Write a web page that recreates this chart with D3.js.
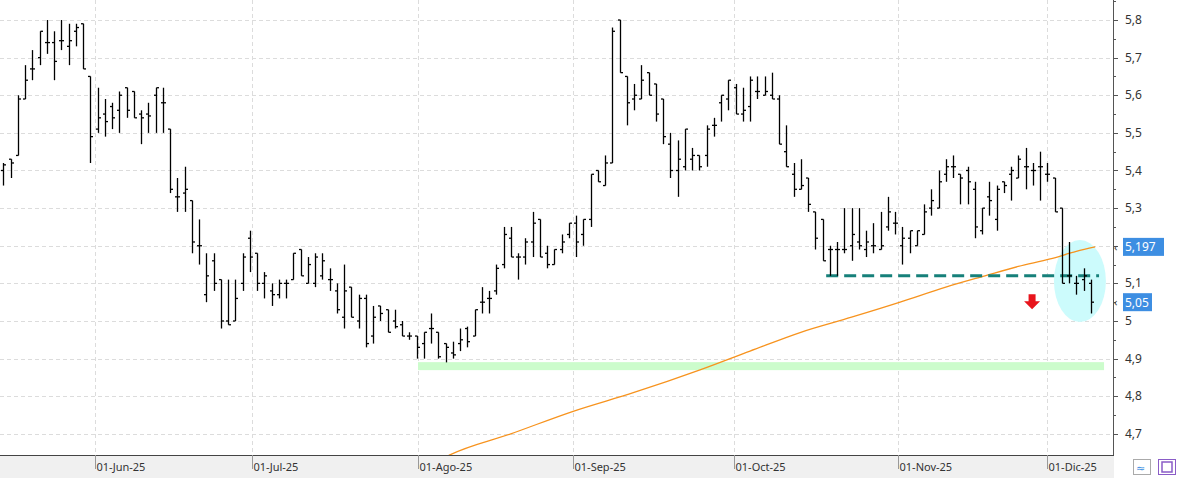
<!DOCTYPE html>
<html><head><meta charset="utf-8">
<script src="https://cdn.jsdelivr.net/npm/d3@7/dist/d3.min.js"></script>
<style>body{margin:0;background:#fff;font-family:"Noto Sans","DejaVu Sans",sans-serif}</style>
</head><body><svg id="c" width="1178" height="478"></svg>
<script>
// OHLC bars (index order)
const opens  = [5.40,5.43,5.44,5.59,5.67,5.70,5.74,5.74,5.745,5.73,5.77,5.79,5.65,5.51,5.55,5.57,5.56,5.62,5.61,5.55,5.55,5.60,5.58,5.51,5.33,5.34,5.32,5.20,5.07,5.16,5.11,5.00,5.00,5.10,5.22,5.18,5.10,5.08,5.07,5.10,5.11,5.19,5.10,5.10,5.12,5.11,5.08,5.01,5.09,5.00,5.06,4.96,5.04,5.03,5.00,4.99,4.96,4.96,4.94,4.98,4.97,4.94,4.915,4.94,4.98,4.96,5.05,5.06,5.08,5.15,5.22,5.17,5.17,5.21,5.27,5.18,5.15,5.19,5.23,5.26,5.23,5.27,5.40,5.36,5.42,5.80,5.65,5.59,5.59,5.66,5.63,5.59,5.47,5.40,5.41,5.43,5.44,5.44,5.52,5.58,5.59,5.62,5.55,5.57,5.61,5.60,5.60,5.59,5.45,5.39,5.35,5.38,5.29,5.27,5.19,5.19,5.19,5.20,5.21,5.19,5.20,5.19,5.25,5.26,5.20,5.22,5.20,5.23,5.30,5.30,5.39,5.41,5.39,5.40,5.35,5.24,5.33,5.27,5.37,5.39,5.38,5.41,5.40,5.41,5.39,5.38,5.30,5.12,5.10,5.11,5.10];
const highs  = [5.42,5.43,5.60,5.68,5.72,5.77,5.80,5.77,5.80,5.79,5.79,5.79,5.65,5.62,5.59,5.58,5.61,5.62,5.61,5.56,5.58,5.62,5.62,5.51,5.38,5.41,5.32,5.27,5.18,5.18,5.11,5.11,5.11,5.18,5.24,5.18,5.13,5.10,5.11,5.11,5.18,5.19,5.17,5.18,5.18,5.14,5.10,5.15,5.09,5.07,5.07,5.04,5.04,5.03,5.03,5.00,4.97,4.96,4.97,5.02,4.97,4.94,4.945,4.98,4.985,5.03,5.09,5.08,5.15,5.25,5.25,5.18,5.22,5.29,5.27,5.20,5.19,5.23,5.26,5.28,5.27,5.39,5.40,5.44,5.78,5.80,5.65,5.63,5.68,5.66,5.63,5.59,5.50,5.48,5.51,5.46,5.44,5.52,5.54,5.60,5.64,5.63,5.62,5.65,5.65,5.65,5.66,5.60,5.52,5.42,5.43,5.38,5.29,5.27,5.20,5.21,5.30,5.30,5.30,5.24,5.26,5.29,5.33,5.29,5.25,5.24,5.24,5.31,5.35,5.40,5.43,5.44,5.39,5.41,5.37,5.30,5.37,5.36,5.37,5.41,5.44,5.46,5.42,5.45,5.42,5.38,5.30,5.21,5.12,5.14,5.11];
const lows   = [5.36,5.38,5.44,5.59,5.64,5.68,5.71,5.64,5.72,5.68,5.73,5.67,5.42,5.50,5.49,5.51,5.50,5.54,5.54,5.47,5.50,5.50,5.50,5.34,5.29,5.29,5.18,5.15,5.05,5.08,4.98,4.99,5.00,5.08,5.13,5.08,5.06,5.04,5.06,5.06,5.11,5.12,5.10,5.09,5.11,5.08,5.02,4.98,5.01,4.98,4.93,4.94,5.00,4.97,4.98,4.96,4.95,4.90,4.90,4.94,4.90,4.89,4.90,4.92,4.93,4.96,5.02,5.02,5.07,5.14,5.17,5.11,5.15,5.17,5.17,5.14,5.15,5.18,5.22,5.17,5.20,5.25,5.37,5.36,5.42,5.66,5.52,5.56,5.59,5.60,5.53,5.47,5.38,5.33,5.40,5.40,5.40,5.41,5.49,5.53,5.56,5.55,5.53,5.53,5.59,5.60,5.59,5.47,5.41,5.33,5.35,5.29,5.19,5.16,5.12,5.12,5.18,5.16,5.19,5.17,5.18,5.19,5.24,5.23,5.15,5.18,5.20,5.23,5.28,5.30,5.37,5.38,5.31,5.31,5.22,5.23,5.28,5.24,5.34,5.32,5.38,5.35,5.36,5.32,5.37,5.29,5.10,5.10,5.07,5.08,5.02];
const closes = [5.415,5.42,5.59,5.64,5.67,5.77,5.74,5.69,5.745,5.745,5.78,5.67,5.49,5.54,5.53,5.54,5.60,5.56,5.54,5.54,5.545,5.62,5.58,5.35,5.33,5.35,5.21,5.20,5.12,5.10,5.00,4.99,5.06,5.17,5.17,5.10,5.12,5.07,5.10,5.10,5.18,5.12,5.15,5.17,5.16,5.11,5.03,5.08,5.01,5.06,4.94,5.01,5.02,4.97,4.985,4.96,4.96,4.93,4.97,4.98,4.905,4.93,4.91,4.95,4.945,5.03,5.05,5.06,5.14,5.23,5.17,5.17,5.21,5.26,5.17,5.15,5.19,5.21,5.26,5.21,5.27,5.39,5.37,5.42,5.77,5.66,5.58,5.60,5.64,5.60,5.55,5.49,5.40,5.43,5.51,5.44,5.41,5.51,5.52,5.60,5.64,5.55,5.56,5.64,5.61,5.61,5.59,5.47,5.41,5.35,5.36,5.31,5.22,5.16,5.19,5.19,5.19,5.23,5.20,5.21,5.20,5.20,5.29,5.26,5.22,5.24,5.24,5.29,5.32,5.37,5.41,5.41,5.38,5.37,5.25,5.30,5.32,5.35,5.36,5.40,5.43,5.41,5.40,5.41,5.39,5.29,5.10,5.12,5.10,5.12,5.05];
// moving average read points [bar index, value]
const maIdx = [60.2,61.6,70,78.6,87,96.1,103,110,117,123.7,130,135.4,140,144.4,148,150.6];
const maVal = [4.63,4.644,4.70,4.76,4.81,4.87,4.92,4.97,5.01,5.05,5.09,5.12,5.145,5.165,5.185,5.197];
const tickLabels = ["01-Jun-25","01-Jul-25","01-Ago-25","01-Sep-25","01-Oct-25","01-Nov-25","01-Dic-25"];
const tickIdx = [12.65,34.3,57.2,78.6,100.8,123.4,144];
const yTicks = [4.7,4.8,4.9,5.0,5.1,5.2,5.3,5.4,5.5,5.6,5.7,5.8];
const supportLevel = 4.88, supportFrom = 57.2;
const breakLevel = 5.12, breakFrom = 113.5;
const lastMA = 5.197, lastClose = 5.05;

const svg = d3.select("#c");
const W=1178, H=478, plotR=1113, plotB=455;
const x = d3.scaleLinear().domain([0,1]).range([3.3,10.55]);
const y = d3.scaleLinear().domain([5.0,5.8]).range([321,20]);
const fmt = v => d3.format(".3~f")(v).replace(".",",");

svg.append("defs").append("clipPath").attr("id","pc").append("rect").attr("x",0).attr("y",0).attr("width",plotR).attr("height",plotB);
const g = svg.append("g").attr("clip-path","url(#pc)");

// grid
g.selectAll(".hg").data(yTicks).join("line").attr("x1",0).attr("x2",plotR).attr("y1",d=>Math.round(y(d))+.5).attr("y2",d=>Math.round(y(d))+.5).attr("stroke","#dcdcdc").attr("stroke-dasharray","4,3");
g.selectAll(".vg").data(tickIdx).join("line").attr("y1",0).attr("y2",plotB).attr("x1",d=>Math.round(x(d))+.5).attr("x2",d=>Math.round(x(d))+.5).attr("stroke","#dcdcdc").attr("stroke-dasharray","4,3");

// support band
g.append("rect").attr("x",x(supportFrom)).attr("width",x(151)-x(supportFrom)+6).attr("y",y(supportLevel)-4).attr("height",8).attr("fill","#ccfccc");
// ellipse
g.append("ellipse").attr("cx",x(148.5)).attr("cy",y(5.106)).attr("rx",26).attr("ry",41).attr("fill","#ccfbfc");
// MA
g.append("path").datum(maIdx.map((d,i)=>[d,maVal[i]])).attr("d",d3.line().x(d=>x(d[0])).y(d=>y(d[1])).curve(d3.curveMonotoneX)).attr("fill","none").attr("stroke","#f7931e").attr("stroke-width",1.3);
// dashed break line
g.append("line").attr("x1",x(breakFrom)).attr("x2",x(151)+1).attr("y1",y(breakLevel)).attr("y2",y(breakLevel)).attr("stroke","#16807a").attr("stroke-width",3).attr("stroke-dasharray","12,6");

// bars
const bars = g.append("g").attr("stroke","#000").attr("stroke-width",1.3);
opens.forEach((o,i)=>{
  const cx = Math.round(x(i))+.5;
  bars.append("line").attr("x1",cx).attr("x2",cx).attr("y1",y(highs[i])).attr("y2",y(lows[i]));
  bars.append("line").attr("x1",cx-2.5).attr("x2",cx).attr("y1",y(o)).attr("y2",y(o));
  bars.append("line").attr("x1",cx).attr("x2",cx+2.5).attr("y1",y(closes[i])).attr("y2",y(closes[i]));
});
// red arrow
const ax = x(141.9), ay = y(5.05);
g.append("path").attr("d",`M${ax-3.5},${ay-8}h7v7h4.5l-8,8l-8,-8h4.5z`).attr("fill","#e8141c");

// right axis
svg.append("line").attr("x1",plotR+.5).attr("x2",plotR+.5).attr("y1",0).attr("y2",plotB).attr("stroke","#555");
yTicks.forEach(v=>{
  svg.append("line").attr("x1",plotR).attr("x2",plotR+5).attr("y1",Math.round(y(v))+.5).attr("y2",Math.round(y(v))+.5).attr("stroke","#555");
  svg.append("line").attr("x1",plotR).attr("x2",plotR+3).attr("y1",Math.round(y(v+0.05))+.5).attr("y2",Math.round(y(v+0.05))+.5).attr("stroke","#555");
  if(Math.abs(v-5.2)>0.01) svg.append("text").attr("x",plotR+12).attr("y",y(v)+4).attr("font-size",12).attr("fill","#333").text(fmt(v));
});
[lastMA,lastClose].forEach(v=>{
  const yy=y(v);
  svg.append("rect").attr("x",plotR+10).attr("y",yy-9).attr("width",v===lastMA?41:29).attr("height",18).attr("fill","#3d8ee2");
  svg.append("text").attr("x",plotR+12).attr("y",yy+4.5).attr("font-size",12).attr("fill","#fff").text(fmt(v));
  svg.append("text").attr("x",plotR+1).attr("y",yy+4).attr("font-size",11).attr("fill","#444").text("‹");
});

// bottom axis band
svg.append("rect").attr("x",0).attr("y",plotB).attr("width",plotR+1).attr("height",H-plotB).attr("fill","#f0f0f0");
svg.append("line").attr("x1",0).attr("x2",plotR+1).attr("y1",plotB+.5).attr("y2",plotB+.5).attr("stroke","#444");
tickIdx.forEach((t,i)=>{
  const tx=Math.round(x(t))+.5;
  svg.append("line").attr("x1",tx).attr("x2",tx).attr("y1",plotB).attr("y2",plotB+14).attr("stroke","#999");
  svg.append("text").attr("x",tx+1).attr("y",471).attr("font-size",11).attr("fill","#333").text(tickLabels[i]);
});
svg.append("rect").attr("x",1133.5).attr("y",459.5).attr("width",17).attr("height",15).attr("fill","#fff").attr("stroke","#aaa");
svg.append("text").attr("x",1136).attr("y",472).attr("font-size",11).attr("fill","#3d8ee2").text("≈");
svg.append("rect").attr("x",1158.5).attr("y",459.5).attr("width",17).attr("height",15).attr("fill","#fff").attr("stroke","#8a5cc7");
svg.append("rect").attr("x",1162).attr("y",462).attr("width",10).attr("height",10).attr("fill","none").attr("stroke","#8a5cc7").attr("stroke-width",1.5);
</script></body></html>
